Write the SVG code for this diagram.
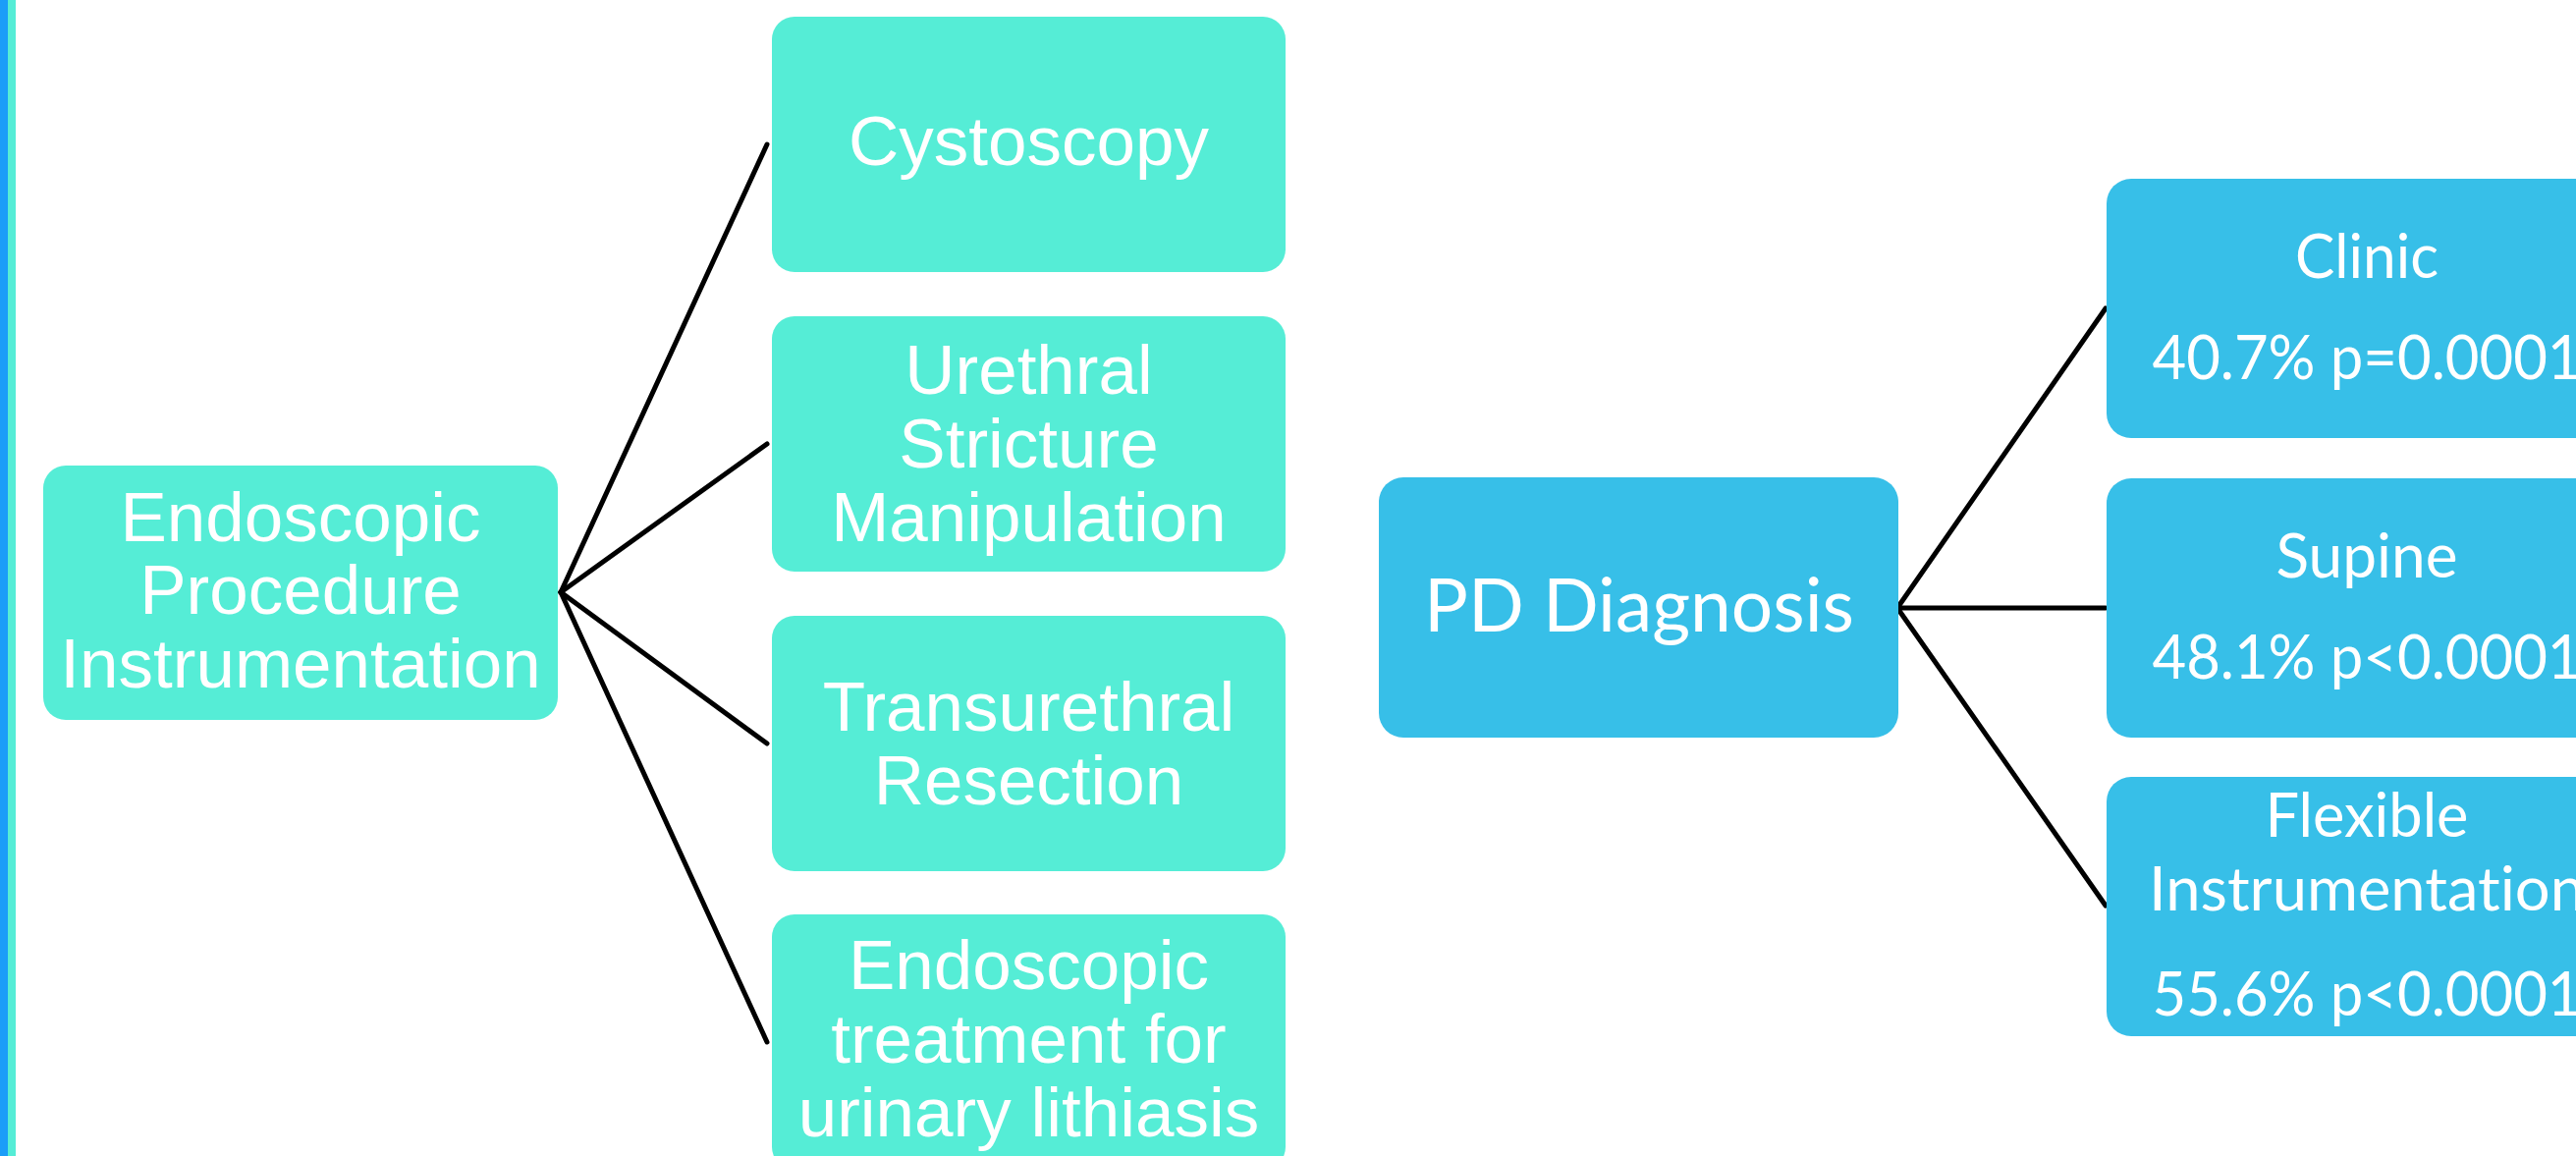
<svg xmlns="http://www.w3.org/2000/svg" width="2623" height="1177" viewBox="0 0 2623 1177">
<style>
.teal{fill:#55EDD6}
.blue{fill:#37BFE8}
.ta{font-family:"Liberation Sans",Arial,sans-serif;fill:#FFFFFF;text-anchor:middle}
.tc{font-family:Lato,"Open Sans",sans-serif;fill:#FFFFFF;text-anchor:middle;font-variant-ligatures:none}
.conn{stroke:#000000;stroke-width:5;fill:none;stroke-linecap:round}
</style>
<rect x="0" y="0" width="2623" height="1177" fill="#FFFFFF"/>
<rect x="0" y="0" width="8" height="1177" fill="#1B9DF8"/>
<rect x="8" y="0" width="8" height="1177" fill="#55EDD6"/>
<g id="connectors">
<line class="conn" x1="571" y1="603" x2="781" y2="147"/>
<line class="conn" x1="571" y1="603" x2="781" y2="452"/>
<line class="conn" x1="571" y1="603" x2="781" y2="757"/>
<line class="conn" x1="571" y1="603" x2="781" y2="1061"/>
<line class="conn" x1="1932" y1="619" x2="2144" y2="314"/>
<line class="conn" x1="1932" y1="619" x2="2144" y2="619"/>
<line class="conn" x1="1932" y1="619" x2="2144" y2="922"/>
</g>
<g id="node-endoscopic-procedure">
<rect class="teal" x="44" y="474" width="524" height="259" rx="23"/>
<text class="ta" font-size="71"><tspan x="306" y="551">Endoscopic</tspan><tspan x="306" y="625">Procedure</tspan><tspan x="306" y="700">Instrumentation</tspan></text>
</g>
<g id="node-cystoscopy">
<rect class="teal" x="786" y="17" width="523" height="260" rx="23"/>
<text class="ta" font-size="71" x="1047.5" y="168">Cystoscopy</text>
</g>
<g id="node-urethral">
<rect class="teal" x="786" y="322" width="523" height="260" rx="23"/>
<text class="ta" font-size="71"><tspan x="1047.5" y="401">Urethral</tspan><tspan x="1047.5" y="476">Stricture</tspan><tspan x="1047.5" y="551">Manipulation</tspan></text>
</g>
<g id="node-transurethral">
<rect class="teal" x="786" y="627" width="523" height="260" rx="23"/>
<text class="ta" font-size="71"><tspan x="1047.5" y="744">Transurethral</tspan><tspan x="1047.5" y="819">Resection</tspan></text>
</g>
<g id="node-lithiasis">
<rect class="teal" x="786" y="931" width="523" height="260" rx="23"/>
<text class="ta" font-size="71"><tspan x="1047.5" y="1007">Endoscopic</tspan><tspan x="1047.5" y="1082">treatment for</tspan><tspan x="1047.5" y="1157">urinary lithiasis</tspan></text>
</g>
<g id="node-pd-diagnosis">
<rect class="blue" x="1404" y="486" width="529" height="265" rx="25"/>
<text class="tc" font-size="75" x="1669" y="643" textLength="438" lengthAdjust="spacingAndGlyphs">PD Diagnosis</text>
</g>
<g id="node-clinic">
<rect class="blue" x="2145" y="182" width="530" height="264" rx="25"/>
<text class="tc" font-size="61" x="2410" y="283" textLength="146" lengthAdjust="spacingAndGlyphs">Clinic</text>
<text class="tc" font-size="61" x="2410" y="386" textLength="437" lengthAdjust="spacingAndGlyphs">40.7% p=0.0001</text>
</g>
<g id="node-supine">
<rect class="blue" x="2145" y="487" width="530" height="264" rx="25"/>
<text class="tc" font-size="61" x="2410" y="588" textLength="185" lengthAdjust="spacingAndGlyphs">Supine</text>
<text class="tc" font-size="61" x="2410" y="691" textLength="437" lengthAdjust="spacingAndGlyphs">48.1% p&lt;0.0001</text>
</g>
<g id="node-flexible">
<rect class="blue" x="2145" y="791" width="530" height="264" rx="25"/>
<text class="tc" font-size="61" x="2410" y="852" textLength="207" lengthAdjust="spacingAndGlyphs">Flexible</text>
<text class="tc" font-size="61" x="2410" y="927" textLength="444" lengthAdjust="spacingAndGlyphs">Instrumentation</text>
<text class="tc" font-size="61" x="2410" y="1034" textLength="437" lengthAdjust="spacingAndGlyphs">55.6% p&lt;0.0001</text>
</g>
</svg>
